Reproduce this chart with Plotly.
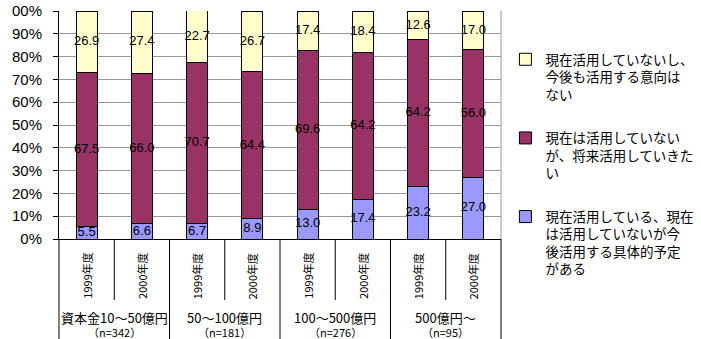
import plotly.graph_objects as go

years = ["1999年度", "2000年度"] * 4
groups = ["資本金10～50億円", "50～100億円", "100～500億円", "500億円～"]
group_n = ["（n=342）", "（n=181）", "（n=276）", "（n=95）"]

series_names = [
    "現在活用している、現在<br>は活用していないが今<br>後活用する具体的予定<br>がある",
    "現在は活用していない<br>が、将来活用していきた<br>い",
    "現在活用していないし、<br>今後も活用する意向は<br>ない",
]
s_plan = [5.5, 6.6, 6.7, 8.9, 13.0, 17.4, 23.2, 27.0]
s_future = [67.5, 66.0, 70.7, 64.4, 69.6, 64.2, 64.2, 56.0]
s_none = [26.9, 27.4, 22.7, 26.7, 17.4, 18.4, 12.6, 17.0]
colors = ["#9999FF", "#993366", "#FFFFCC"]

y_tickvals = [0, 10, 20, 30, 40, 50, 60, 70, 80, 90, 100]
y_ticktext = ["0%", "10%", "20%", "30%", "40%", "50%", "60%", "70%", "80%", "90%", "00%"]

JP = "Noto Sans CJK JP"
AR = "Liberation Sans, Arial"

x = list(range(len(years)))
fig = go.Figure()
all_series = [s_plan, s_future, s_none]
n_series = len(all_series)
for i, (vals, name, col) in enumerate(zip(all_series, series_names, colors)):
    fig.add_trace(go.Bar(
        x=x, y=vals, name=name, width=0.38,
        marker=dict(color=col, line=dict(color="black", width=1)),
        legendgroup=f"g{i}", legendrank=n_series - i,
    ))

# labels at segment centres
lab_x, lab_y, lab_t = [], [], []
for k in x:
    base = 0
    for vals in all_series:
        v = vals[k]
        lab_x.append(k)
        lab_y.append(base + v / 2)
        lab_t.append(f"{v:.1f}")
        base += v
fig.add_trace(go.Scatter(
    x=lab_x, y=lab_y, text=lab_t, mode="text", showlegend=False,
    textfont=dict(size=13, color="black", family=AR), hoverinfo="skip",
    cliponaxis=False,
))

H_PLOT = 228.0
def py(pix):
    return (239 - pix) / H_PLOT

n = len(years)
shapes = []
for b in range(n + 1):
    xp = b / n
    if b % 2 == 0:
        y1 = py(339)
    else:
        y1 = py(300)
    shapes.append(dict(type="line", xref="paper", yref="paper", x0=xp, x1=xp, y0=0, y1=y1,
                       line=dict(color="black", width=1)))
shapes.append(dict(type="line", xref="paper", yref="paper", x0=1, x1=1, y0=0, y1=1,
                   line=dict(color="#999999", width=1)))

annotations = []
for k, yr in enumerate(years):
    annotations.append(dict(x=k, xref="x", y=py(276), yref="paper", text=yr, textangle=-90,
                            xanchor="center", yanchor="middle",
                            showarrow=False, font=dict(size=11, family=JP, color="black")))
for g, (gname, gn) in enumerate(zip(groups, group_n)):
    annotations.append(dict(x=2 * g + 0.5, xref="x", y=py(317), yref="paper", text=gname,
                            xanchor="center", yanchor="middle",
                            showarrow=False, font=dict(size=13, family=JP, color="black")))
    annotations.append(dict(x=2 * g + 0.5, xref="x", y=py(332), yref="paper", text=gn,
                            xanchor="center", yanchor="middle",
                            showarrow=False, font=dict(size=11, family=JP, color="black")))

fig.update_layout(
    width=701, height=339,
    margin=dict(l=59, r=200, t=11, b=100, autoexpand=False),
    paper_bgcolor="white", plot_bgcolor="white",
    barmode="stack",
    showlegend=True,
    legend=dict(x=1.010, xanchor="left", y=py(44), yanchor="top",
                traceorder="grouped", valign="top", tracegroupgap=23,
                maxheight=320,
                font=dict(size=13.5, family=JP, color="black"),
                bgcolor="rgba(0,0,0,0)"),
    xaxis=dict(range=[-0.5, n - 0.5], showticklabels=False, showgrid=False, zeroline=False,
               showline=True, linecolor="black", linewidth=1, ticks=""),
    yaxis=dict(range=[0, 100], tickvals=y_tickvals, ticktext=y_ticktext,
               showgrid=True, gridcolor="#999999", gridwidth=1, zeroline=False,
               showline=True, linecolor="black", linewidth=1,
               ticks="outside", ticklen=5, tickcolor="black",
               ticklabelstandoff=8,
               tickfont=dict(size=15, family=AR, color="black")),
    shapes=shapes, annotations=annotations,
)

fig.write_html("out.html")
